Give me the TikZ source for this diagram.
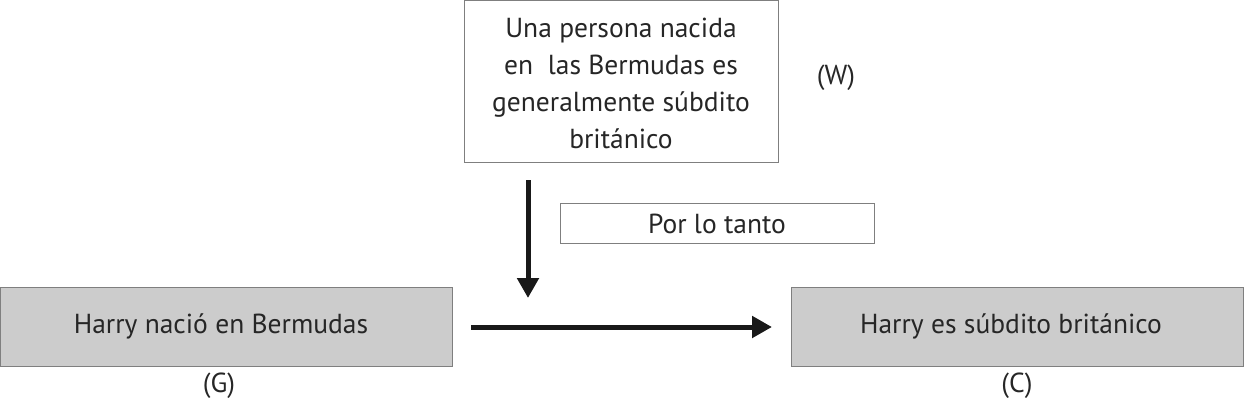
\documentclass[tikz,border=0pt]{standalone}
\usepackage{fontspec}
\setmainfont{PT Sans}
\usetikzlibrary{arrows.meta}
\definecolor{boxgray}{HTML}{CCCCCC}
\definecolor{edgegray}{HTML}{7F7F7F}
\tikzset{
  x=1pt,y=-1pt,
  plainbox/.style={draw=edgegray,line width=1.2pt,fill=white,inner sep=0pt},
  graybox/.style={draw=edgegray,line width=1.2pt,fill=boxgray,inner sep=0pt},
  txt/.style={font=\fontsize{27.5}{37}\selectfont,text=black!85},
  bigarrow/.style={line width=5pt,-{Triangle[length=20pt,width=21pt]},black!90}
}
\begin{document}
\begin{tikzpicture}
\useasboundingbox (0,0) rectangle (1244,401);
\node[plainbox,minimum width=314pt,minimum height=162pt,anchor=north west] (W) at (464,0) {};
\node[txt,align=center] (Wt) at (621,83) {Una persona nacida\\en\ \ las Bermudas es\\generalmente súbdito\\británico};
\node[txt] (Wl) at (836,78) {(W)};
\node[plainbox,minimum width=314pt,minimum height=40pt,anchor=north west] (P) at (560,203) {};
\node[txt] (Pt) at (717,224) {Por lo tanto};
\node[graybox,minimum width=452pt,minimum height=79pt,anchor=north west] (G) at (0,287) {};
\node[txt] (Gt) at (221,326) {Harry nació en Bermudas};
\node[txt] (Gl) at (219,386) {(G)};
\node[graybox,minimum width=452pt,minimum height=79pt,anchor=north west] (C) at (791,287) {};
\node[txt] (Ct) at (1011,326) {Harry es súbdito británico};
\node[txt] (Cl) at (1017,386) {(C)};
\coordinate (v1) at (528,180);
\coordinate (v2) at (528,298);
\coordinate (h1) at (471,327);
\coordinate (h2) at (772,327);
\draw[bigarrow] (v1) -- (v2);
\draw[bigarrow] (h1) -- (h2);
\end{tikzpicture}
\end{document}
